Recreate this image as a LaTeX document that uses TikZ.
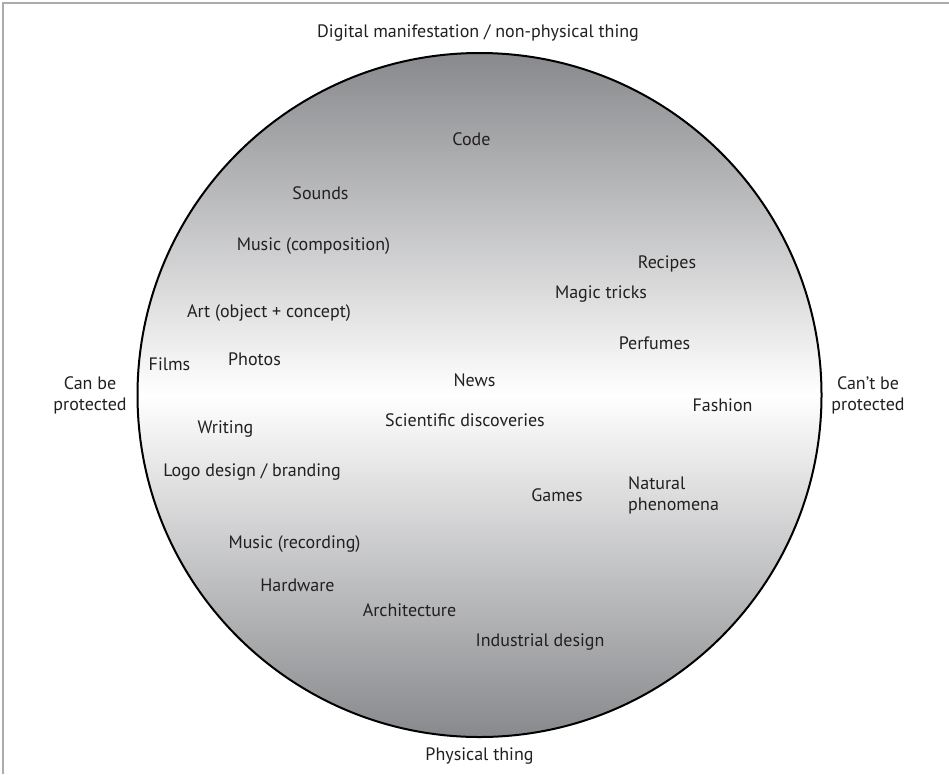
\documentclass[tikz,border=0pt]{standalone}
\usepackage{fontspec}
\setmainfont{PT Sans}
\definecolor{dark}{RGB}{136,137,140}
\definecolor{txt}{RGB}{35,31,32}
\definecolor{framec}{RGB}{172,172,172}
\begin{document}
\begin{tikzpicture}[x=1pt,y=-1pt,
  lbl/.style={font=\fontsize{18}{20.5}\selectfont, text=txt, inner sep=0pt, anchor=base}]
\useasboundingbox (0,0) rectangle (949,774);
\draw[framec, line width=2.5pt] (3,774) -- (3,3) -- (949,3);
\node[circle, minimum size=684pt, inner sep=0pt, draw=black, line width=2pt,
      top color=dark, bottom color=dark, middle color=white] (disc) at (479.5,395) {};
% axis labels
\node[lbl] (top) at (478,37) {Digital manifestation / non-physical thing};
\node[lbl] (bottom) at (479.5,760) {Physical thing};
\node[lbl, align=center, anchor=base] (left) at (90,410) {Can be\\protected};
\node[lbl, align=center, anchor=base] (right) at (868,410) {Can’t be\\protected};
% items
\node[lbl] (code) at (471.5,145) {Code};
\node[lbl] (sounds) at (320.5,199.5) {Sounds};
\node[lbl] (musiccomp) at (313.5,250) {Music (composition)};
\node[lbl] (art) at (269,317) {Art (object + concept)};
\node[lbl] (recipes) at (667,268) {Recipes};
\node[lbl] (magic) at (601,298) {Magic tricks};
\node[lbl] (perfumes) at (654.5,349) {Perfumes};
\node[lbl] (fashion) at (722.5,411) {Fashion};
\node[lbl] (films) at (169.5,370) {Films};
\node[lbl] (photos) at (254.5,365) {Photos};
\node[lbl] (news) at (474.5,386) {News};
\node[lbl] (science) at (465,426) {Scientific discoveries};
\node[lbl] (writing) at (225.5,433) {Writing};
\node[lbl] (logo) at (252,476) {Logo design / branding};
\node[lbl] (games) at (557,501) {Games};
\node[lbl, align=left, anchor=base west] (natural) at (628,510) {Natural\\phenomena};
\node[lbl] (musicrec) at (294.5,548) {Music (recording)};
\node[lbl] (hardware) at (297.5,591) {Hardware};
\node[lbl] (architecture) at (409.5,616) {Architecture};
\node[lbl] (industrial) at (540,646) {Industrial design};
\end{tikzpicture}
\end{document}
